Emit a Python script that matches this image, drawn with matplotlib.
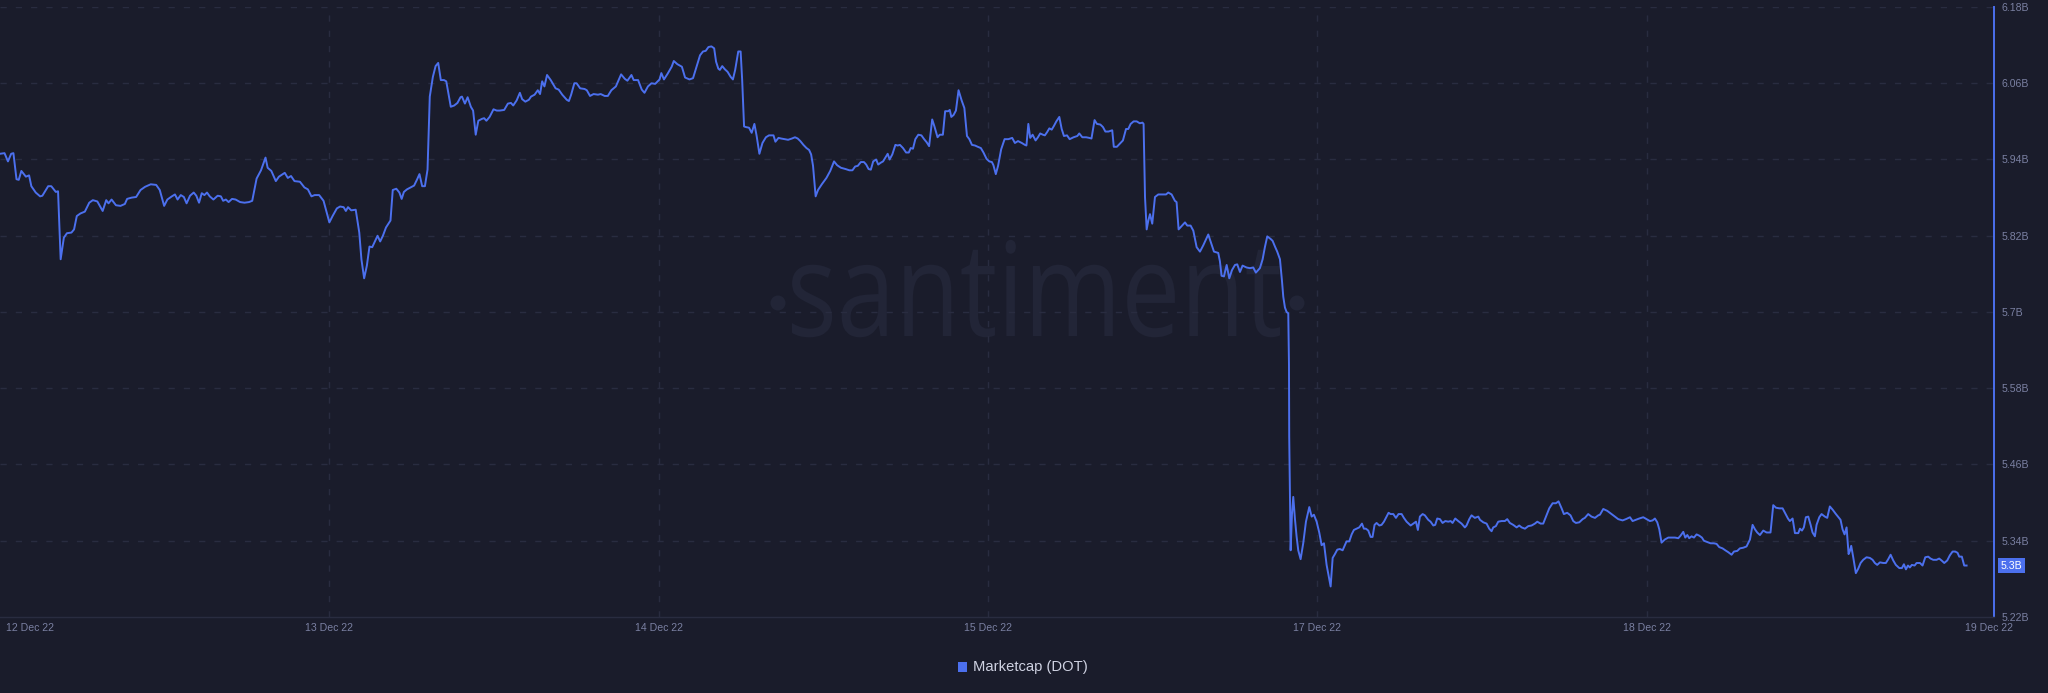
import numpy as np
import matplotlib
matplotlib.use("Agg")
import matplotlib.pyplot as plt
from matplotlib.textpath import TextPath
from matplotlib.patches import PathPatch, Circle, Rectangle
from matplotlib.font_manager import FontProperties
from matplotlib.transforms import Affine2D, IdentityTransform

# ---------------- data ----------------
# time in hours from the start of the window, market cap in billions USD
hours = [
    0, 0.38, 0.67, 0.94, 1.13, 1.39, 1.58, 1.80, 2.18, 2.45,
    2.64, 3.01, 3.38, 3.57, 4.06, 4.32, 4.70, 4.89, 5.11, 5.38,
    5.64, 6.02, 6.24, 6.47, 6.77, 7.15, 7.52, 7.82, 8.20, 8.65,
    8.95, 9.14, 9.40, 9.77, 10.15, 10.52, 10.71, 11.09, 11.47, 11.84,
    12.22, 12.70, 13.16, 13.46, 13.83, 14.10, 14.48, 14.74, 14.96, 15.23,
    15.49, 15.72, 16.01, 16.32, 16.54, 16.77, 17.00, 17.22, 17.44, 17.67,
    17.98, 18.34, 18.61, 18.80, 19.03, 19.26, 19.55, 19.85, 20.23, 20.60,
    20.98, 21.25, 21.62, 21.99, 22.37, 22.55, 22.86, 23.24, 23.50, 23.99,
    24.25, 24.52, 24.81, 25.27, 25.65, 25.94, 26.24, 26.51, 26.89, 27.26,
    27.75, 28.02, 28.38, 28.65, 28.95, 29.14, 29.32, 29.59, 29.97, 30.27,
    30.45, 30.68, 30.91, 31.13, 31.36, 31.58, 31.81, 32.03, 32.26, 32.52,
    32.90, 33.09, 33.39, 33.65, 33.84, 34.03, 34.29, 34.59, 34.89, 35.15,
    35.34, 35.57, 35.80, 36.02, 36.21, 36.47, 36.70, 36.92, 37.14, 37.41,
    37.60, 37.98, 38.27, 38.54, 38.80, 38.92, 39.17, 39.40, 39.67, 39.86,
    40.08, 40.30, 40.61, 40.79, 40.98, 41.25, 41.58, 41.85, 42.11, 42.48,
    42.79, 43.05, 43.24, 43.53, 43.80, 43.99, 44.26, 44.56, 44.74, 45.04,
    45.31, 45.50, 45.68, 45.87, 46.09, 46.40, 46.81, 47.07, 47.37, 47.75,
    47.93, 48.12, 48.39, 48.58, 48.88, 49.25, 49.44, 49.71, 50.01, 50.38,
    50.61, 50.95, 51.21, 51.51, 51.89, 52.33, 52.64, 52.86, 53.20, 53.39,
    53.76, 54.07, 54.30, 54.59, 54.89, 55.20, 55.57, 55.72, 55.94, 56.25,
    56.59, 56.77, 57.07, 57.45, 57.72, 58.09, 58.39,
    58.98, 59.23, 59.46, 59.69, 59.94, 60.17, 60.33, 60.52, 60.65, 60.85,
    61.07, 61.30, 61.56, 61.75, 61.94, 62.20, 62.40, 62.53, 62.69, 62.85,
    63.11, 63.33, 63.56, 63.75, 63.98, 64.24, 64.53, 64.79, 65.17, 65.33,
    65.59, 65.82, 66.40, 66.72, 66.98, 67.21, 67.43, 67.69, 67.95, 68.17,
    68.34, 68.50, 68.72, 68.92, 69.24, 69.63, 69.95, 70.27, 70.53, 70.85,
    71.24, 71.56, 71.82, 72.05, 72.27, 72.53, 72.79, 72.98, 73.18, 73.37,
    73.57, 73.82, 73.99, 74.21, 74.40, 74.63, 74.79, 74.95, 75.18, 75.44,
    75.63, 75.82, 76.08, 76.34, 76.57, 76.73, 76.92, 77.12, 77.37, 77.63,
    77.86, 78.08, 78.28, 78.54, 78.73, 78.99, 79.18, 79.44, 79.63, 79.89,
    80.02, 80.15, 80.34, 80.54, 80.76, 81.02, 81.25, 81.47, 81.67, 81.89,
    82.15, 82.38, 82.64, 82.86, 83.12, 83.35, 83.57, 83.70, 83.90, 84.09,
    84.35, 84.64, 84.96, 85.28, 85.51, 85.77, 86.09, 86.35, 86.48, 86.64,
    86.80, 87.00, 87.25, 87.45, 87.64, 87.87, 88.03, 88.22, 88.41, 88.61,
    88.80, 89.00, 89.25, 89.45, 89.64, 89.90, 90.12, 90.45, 90.77, 90.93,
    91.19, 91.51, 91.77, 91.96, 92.22, 92.42, 92.71, 92.93, 93.13, 93.39,
    93.71, 93.84, 94.10, 94.35, 94.61, 94.87, 95.06, 95.26, 95.51, 95.77,
    96.03, 96.26, 96.35,
    96.47, 96.61, 96.75, 96.89, 97.08, 97.31, 97.59, 98.01, 98.24, 98.43,
    98.71, 98.99, 99.13, 99.30, 99.55, 99.84, 100.03, 100.31, 100.54, 100.82,
    101.10, 101.38, 101.60, 101.80, 102.03, 102.28, 102.64, 102.78, 102.92, 103.12,
    103.35, 103.57, 103.80, 104.05, 104.24, 104.47, 104.69, 105.03, 105.31, 105.59,
    105.81, 106.15, 106.38, 106.57, 106.77, 107.05, 107.22, 107.42, 107.61, 107.84,
    108.01, 108.12, 108.26, 108.40, 108.54, 108.60, 108.62, 108.68, 108.74, 108.85,
    108.96, 109.10, 109.24, 109.38, 109.58, 109.80, 110.03, 110.31, 110.51, 110.70,
    110.93, 111.15, 111.35, 111.55, 111.77, 111.94, 112.11, 112.28, 112.47, 112.67,
    112.89, 113.12, 113.31, 113.45, 113.68, 113.88, 114.07, 114.30, 114.52, 114.75,
    114.91, 115.08, 115.28, 115.48, 115.64, 115.81, 115.98, 116.21, 116.40, 116.60,
    116.82, 116.99, 117.16, 117.39, 117.61, 117.83, 118.09, 118.28, 118.51, 118.85,
    119.07, 119.30, 119.46, 119.63, 119.86, 120.05, 120.33, 120.53, 120.76, 120.92,
    121.09, 121.32, 121.54, 121.77, 122.02, 122.22, 122.38, 122.61, 122.86, 123.14,
    123.42, 123.56, 123.79, 123.98, 124.26, 124.55, 124.69, 124.97, 125.25, 125.47,
    125.67, 125.81, 126.03, 126.23, 126.51, 126.79, 126.99, 127.21, 127.49, 127.78,
    128.00, 128.20, 128.48, 128.76, 129.04, 129.32, 129.52, 129.80, 130.02, 130.25,
    130.53, 130.81, 131.09, 131.31, 131.57, 131.76, 132.04, 132.32, 132.55, 132.77,
    133.06, 133.34, 133.53, 133.81, 134.09, 134.38, 134.66, 134.80,
    135.08, 135.42, 135.78, 136.06, 136.34, 136.71, 136.99, 137.33, 137.55, 137.83,
    138.11, 138.45, 138.73, 139.01, 139.24, 139.43, 139.63, 139.80, 139.99, 140.27,
    140.56, 140.84, 141.12, 141.40, 141.59, 141.82, 141.99, 142.16, 142.32, 142.52,
    142.72, 142.94, 143.17, 143.39, 143.56, 143.84, 144.12, 144.40, 144.63, 144.85,
    145.13, 145.36, 145.61, 145.89, 146.09, 146.37, 146.59, 146.87, 147.15, 147.44,
    147.66, 147.86, 148.05, 148.28, 148.56, 148.84, 149.17, 149.40, 149.63, 149.91,
    150.19, 150.41, 150.64, 150.80, 151.03, 151.23, 151.51, 151.65, 151.82, 151.98,
    152.15, 152.35, 152.55, 152.71, 152.91, 153.05, 153.28, 153.47, 153.75, 153.95,
    154.17, 154.40, 154.68, 154.90, 155.07, 155.24, 155.41, 155.58, 155.75, 155.86,
    155.97, 156.14, 156.36, 156.56, 156.76, 156.98, 157.26, 157.54, 157.77, 157.96,
    158.16, 158.39, 158.67, 158.89, 159.09, 159.29, 159.51, 159.73, 160.02, 160.24,
    160.41, 160.58, 160.75, 160.91, 161.08, 161.31, 161.48, 161.76, 161.98, 162.21,
    162.46, 162.65, 162.88, 163.16, 163.38, 163.58, 163.81, 164.06, 164.28, 164.51,
    164.73, 164.93, 165.07, 165.29, 165.49, 165.69,
]

marketcap_b = [
    5.949, 5.950, 5.937, 5.949, 5.950, 5.909, 5.908, 5.922, 5.913, 5.915,
    5.898, 5.888, 5.882, 5.883, 5.898, 5.898, 5.889, 5.890, 5.783, 5.817,
    5.824, 5.825, 5.830, 5.851, 5.855, 5.858, 5.872, 5.876, 5.874, 5.859,
    5.876, 5.871, 5.877, 5.868, 5.867, 5.870, 5.878, 5.880, 5.881, 5.892,
    5.897, 5.901, 5.900, 5.892, 5.867, 5.877, 5.882, 5.885, 5.877, 5.884,
    5.881, 5.871, 5.883, 5.888, 5.883, 5.872, 5.887, 5.884, 5.888, 5.882,
    5.877, 5.883, 5.882, 5.875, 5.877, 5.873, 5.878, 5.877, 5.873, 5.872,
    5.873, 5.875, 5.910, 5.923, 5.943, 5.927, 5.922, 5.906, 5.913, 5.919,
    5.911, 5.914, 5.906, 5.905, 5.896, 5.893, 5.882, 5.884, 5.884, 5.875,
    5.841, 5.851, 5.863, 5.866, 5.865, 5.859, 5.865, 5.860, 5.861, 5.825,
    5.783, 5.753, 5.773, 5.803, 5.802, 5.811, 5.820, 5.811, 5.820, 5.833,
    5.844, 5.892, 5.894, 5.888, 5.878, 5.889, 5.893, 5.896, 5.899, 5.909,
    5.917, 5.898, 5.898, 5.924, 6.039, 6.070, 6.087, 6.092, 6.065, 6.065,
    6.063, 6.023, 6.025, 6.029, 6.038, 6.039, 6.028, 6.038, 6.023, 6.017,
    5.979, 6.001, 6.004, 6.005, 6.001, 6.007, 6.019, 6.017, 6.017, 6.018,
    6.028, 6.029, 6.025, 6.033, 6.045, 6.035, 6.031, 6.034, 6.039, 6.042,
    6.049, 6.043, 6.063, 6.055, 6.073, 6.065, 6.052, 6.050, 6.042, 6.034,
    6.032, 6.042, 6.060, 6.060, 6.052, 6.051, 6.049, 6.040, 6.043, 6.042,
    6.043, 6.040, 6.040, 6.049, 6.055, 6.074, 6.067, 6.064, 6.073, 6.065,
    6.065, 6.050, 6.045, 6.055, 6.060, 6.059, 6.066, 6.076, 6.066, 6.075,
    6.086, 6.095, 6.090, 6.086, 6.069, 6.066, 6.068,
    6.104, 6.110, 6.111, 6.117, 6.118, 6.115, 6.094, 6.083, 6.081, 6.087,
    6.082, 6.078, 6.070, 6.066, 6.081, 6.110, 6.110, 6.065, 5.992, 5.991,
    5.990, 5.982, 5.996, 5.977, 5.949, 5.966, 5.975, 5.978, 5.978, 5.968,
    5.974, 5.973, 5.971, 5.973, 5.975, 5.973, 5.969, 5.963, 5.958, 5.955,
    5.948, 5.930, 5.882, 5.892, 5.901, 5.911, 5.922, 5.937, 5.931, 5.927,
    5.925, 5.923, 5.923, 5.929, 5.930, 5.936, 5.936, 5.932, 5.925, 5.924,
    5.937, 5.940, 5.932, 5.935, 5.937, 5.944, 5.949, 5.940, 5.948, 5.963,
    5.962, 5.963, 5.958, 5.951, 5.951, 5.958, 5.957, 5.972, 5.979, 5.978,
    5.972, 5.967, 5.961, 6.003, 5.992, 5.975, 5.979, 5.979, 6.016, 6.016,
    6.018, 6.007, 6.010, 6.017, 6.049, 6.033, 6.021, 5.977, 5.972, 5.963,
    5.962, 5.960, 5.958, 5.951, 5.941, 5.937, 5.936, 5.931, 5.917, 5.930,
    5.956, 5.972, 5.972, 5.974, 5.966, 5.969, 5.966, 5.963, 5.962, 5.996,
    5.974, 5.979, 5.970, 5.975, 5.981, 5.979, 5.978, 5.983, 5.989, 5.987,
    5.993, 6.000, 6.007, 5.988, 5.977, 5.978, 5.972, 5.975, 5.977, 5.981,
    5.975, 5.975, 5.974, 5.973, 6.002, 5.996, 5.995, 5.991, 5.984, 5.984,
    5.986, 5.960, 5.960, 5.965, 5.970, 5.988, 5.988, 5.996, 6.000, 6.000,
    5.997, 5.998, 5.996,
    5.881, 5.830, 5.844, 5.854, 5.839, 5.881, 5.885, 5.885, 5.885, 5.888,
    5.885, 5.875, 5.873, 5.830, 5.835, 5.841, 5.836, 5.836, 5.828, 5.802,
    5.795, 5.805, 5.814, 5.822, 5.809, 5.795, 5.793, 5.780, 5.757, 5.756,
    5.774, 5.753, 5.766, 5.774, 5.775, 5.763, 5.773, 5.770, 5.769, 5.770,
    5.762, 5.769, 5.783, 5.802, 5.819, 5.815, 5.812, 5.803, 5.795, 5.783,
    5.749, 5.724, 5.707, 5.700, 5.698, 5.617, 5.504, 5.420, 5.325, 5.381,
    5.409, 5.375, 5.347, 5.325, 5.311, 5.336, 5.370, 5.393, 5.378, 5.381,
    5.370, 5.353, 5.333, 5.336, 5.302, 5.285, 5.268, 5.313, 5.319, 5.326,
    5.327, 5.325, 5.333, 5.339, 5.339, 5.350, 5.357, 5.359, 5.361, 5.367,
    5.359, 5.359, 5.356, 5.346, 5.346, 5.365, 5.368, 5.364, 5.365, 5.370,
    5.378, 5.384, 5.382, 5.382, 5.376, 5.382, 5.382, 5.376, 5.370, 5.364,
    5.367, 5.370, 5.357, 5.378, 5.382, 5.380, 5.373, 5.370, 5.364, 5.365,
    5.375, 5.374, 5.368, 5.371, 5.370, 5.371, 5.368, 5.375, 5.371, 5.367,
    5.361, 5.364, 5.374, 5.380, 5.376, 5.378, 5.373, 5.369, 5.367, 5.359,
    5.355, 5.361, 5.363, 5.370, 5.371, 5.371, 5.374, 5.368, 5.365, 5.361,
    5.364, 5.361, 5.359, 5.363, 5.364, 5.367, 5.370, 5.367, 5.367, 5.378,
    5.391, 5.399, 5.399, 5.402, 5.391, 5.382, 5.384, 5.380, 5.371, 5.368,
    5.369, 5.374, 5.376, 5.382, 5.378, 5.376, 5.380, 5.381,
    5.390, 5.387, 5.382, 5.378, 5.374, 5.372, 5.374, 5.377, 5.371, 5.373,
    5.375, 5.377, 5.374, 5.371, 5.372, 5.375, 5.369, 5.358, 5.337, 5.342,
    5.345, 5.345, 5.345, 5.344, 5.348, 5.354, 5.345, 5.349, 5.344, 5.347,
    5.345, 5.350, 5.348, 5.345, 5.340, 5.338, 5.336, 5.336, 5.335, 5.330,
    5.328, 5.325, 5.322, 5.318, 5.323, 5.324, 5.328, 5.329, 5.331, 5.342,
    5.365, 5.358, 5.353, 5.349, 5.356, 5.353, 5.353, 5.396, 5.392, 5.391,
    5.391, 5.383, 5.375, 5.371, 5.375, 5.352, 5.352, 5.359, 5.356, 5.361,
    5.377, 5.378, 5.365, 5.353, 5.347, 5.365, 5.377, 5.382, 5.378, 5.376,
    5.394, 5.389, 5.382, 5.377, 5.373, 5.358, 5.350, 5.361, 5.319, 5.324,
    5.332, 5.314, 5.289, 5.296, 5.305, 5.310, 5.314, 5.313, 5.310, 5.305,
    5.302, 5.306, 5.305, 5.305, 5.311, 5.318, 5.309, 5.302, 5.297, 5.297,
    5.303, 5.295, 5.301, 5.298, 5.302, 5.301, 5.305, 5.305, 5.301, 5.314,
    5.315, 5.312, 5.310, 5.310, 5.312, 5.309, 5.305, 5.309, 5.317, 5.323,
    5.323, 5.321, 5.315, 5.315, 5.301, 5.301,
]

date_labels = ["12 Dec 22", "13 Dec 22", "14 Dec 22", "15 Dec 22",
               "17 Dec 22", "18 Dec 22", "19 Dec 22"]
y_ticks = [5.22, 5.34, 5.46, 5.58, 5.70, 5.82, 5.94, 6.06, 6.18]
series_name = "Marketcap (DOT)"
watermark = "santiment"

# ---------------- style ----------------
BG = "#1a1c2b"
LINE = "#4c70ee"
GRID = "#292c40"
TICK = "#7a80a2"
LEG_TXT = "#cfd2e2"
WM = "#222537"
FONT = "Liberation Sans"

W, H, DPI = 2048, 693, 100
fig = plt.figure(figsize=(W / DPI, H / DPI), dpi=DPI, facecolor=BG)

AX_L, AX_R, AX_T, AX_B = 0, 1994, 7, 617  # pixel box of plot area
ax = fig.add_axes([AX_L / W, 1 - AX_B / H, (AX_R - AX_L) / W, (AX_B - AX_T) / H])
ax.set_facecolor("none")

# watermark (behind everything)
fp = FontProperties(family="Open Sans", weight="normal")
tp = TextPath((0, 0), watermark, size=100, prop=fp)
ext = tp.get_extents()
xh = TextPath((0, 0), "x", size=100, prop=fp).get_extents().height
sx = 488 / ext.width
sy = 70 / xh
tr = Affine2D().translate(-ext.x0, 0).scale(sx, sy).translate(792, H - 336)
wm_patch = PathPatch(tp, transform=tr, fc=WM, ec="none", zorder=-5)
fig.add_artist(wm_patch)
for cx in (778, 1297):
    fig.add_artist(Circle((cx, H - 303), 7.5, transform=IdentityTransform(),
                          fc=WM, ec="none", zorder=-5))

# series
ax.plot(hours, marketcap_b, color=LINE, lw=1.4, zorder=3,
        solid_joinstyle="round")

ax.set_xlim(0, 168)
ax.set_ylim(y_ticks[0], y_ticks[-1])

# grid lines
for v in y_ticks[1:]:
    ax.axhline(v, color=GRID, lw=1.0, dashes=(4.5, 6.5), zorder=1)
step = 27.75
tick_pos = [i * step for i in range(6)] + [167.6]
for p in tick_pos[1:-1]:
    ax.axvline(p, color=GRID, lw=1.0, dashes=(4.5, 6.5), zorder=1)

# spines
for s in ("top", "left"):
    ax.spines[s].set_visible(False)
ax.spines["bottom"].set_color(GRID)
ax.spines["bottom"].set_linewidth(1.0)
ax.spines["right"].set_color(LINE)
ax.spines["right"].set_linewidth(1.4)

# y ticks on right
ax.yaxis.tick_right()
ax.set_yticks(y_ticks)
ax.set_yticklabels([f"{v:g}B" for v in y_ticks])
ax.tick_params(axis="y", length=0, pad=5.5, labelsize=7.6, labelcolor=TICK)
for lab in ax.get_yticklabels():
    lab.set_fontfamily(FONT)

# x labels drawn manually
ax.set_xticks([])
for i, (p, lab) in enumerate(zip(tick_pos, date_labels)):
    dx = 6 if i == 0 else 0
    ax.annotate(lab, xy=(p, 0), xycoords=("data", "axes fraction"),
                xytext=(dx, -11), textcoords="offset pixels",
                ha="left" if i == 0 else "center", va="center",
                fontsize=7.6, color=TICK, family=FONT, annotation_clip=False)

# last value badge
last_val = marketcap_b[-1]
ax.annotate(f"{last_val:.1f}B", xy=(1, last_val),
            xycoords=("axes fraction", "data"),
            xytext=(7, 0), textcoords="offset pixels",
            ha="left", va="center", fontsize=7.6, color="white", family=FONT,
            bbox=dict(boxstyle="square,pad=0.25", fc=LINE, ec="none"),
            annotation_clip=False, zorder=5)

# legend
fig.add_artist(Rectangle((958, H - 672), 9, 10, transform=IdentityTransform(),
                         fc=LINE, ec="none"))
fig.text(973 / W, 1 - 667 / H, series_name, ha="left", va="center",
         fontsize=10.6, color=LEG_TXT, family=FONT)

fig.savefig("out.png", dpi=DPI, facecolor=BG)
